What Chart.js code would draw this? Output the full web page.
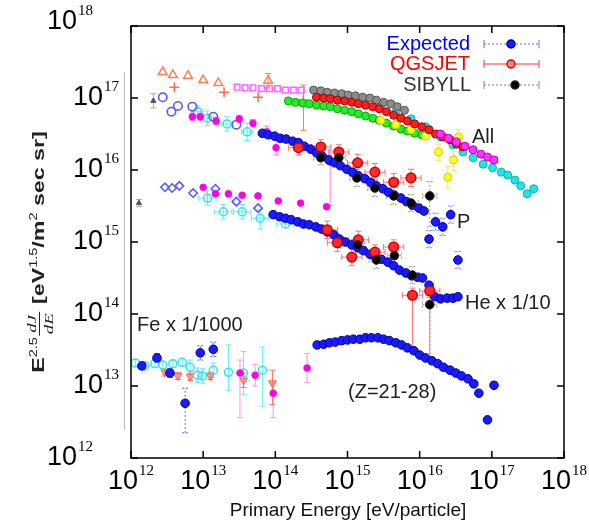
<!DOCTYPE html>
<html>
<head>
<meta charset="utf-8">
<script src="https://cdn.jsdelivr.net/npm/chart.js@4.4.0/dist/chart.umd.min.js"></script>
<style>
html,body{margin:0;padding:0;background:#fff;}
#wrap{width:589px;height:523px;position:relative;}
</style>
</head>
<body>
<div id="wrap"><canvas id="c" width="589" height="523"></canvas></div>
<script>
// values are log10(E [eV]) and log10(E^2.5 dJ/dE)
// ---- all particle ----
const triE = [12.44,12.58,12.79,13.00,13.21,13.90];
const triF = [17.36,17.32,17.31,17.25,17.21,17.24];
const plusE = [12.60,13.29,13.76,14.39];
const plusF = [17.15,17.08,17.01,16.97];
const sqE = [13.47,13.58,13.69,13.81,13.92,14.03,14.14,14.25,14.36];
const sqF = [17.15,17.14,17.14,17.13,17.13,17.13,17.11,17.11,17.11];
const grayAllE = [14.53,14.63,14.72,14.82,14.92,15.01,15.11,15.21,15.31,15.40,15.50,15.60,15.69,15.79];
const grayAllF = [17.11,17.10,17.08,17.07,17.06,17.04,17.03,17.01,17.00,16.97,16.94,16.92,16.88,16.83];
const redAllE = [14.57,14.67,14.76,14.86,14.96,15.06,15.15,15.25,15.35,15.44,15.54,15.64,15.74,15.83,15.93,16.03,16.13,16.22,16.32,16.42,16.51,16.60];
const redAllF = [17.01,17.00,16.99,16.97,16.96,16.94,16.92,16.90,16.88,16.85,16.81,16.76,16.72,16.68,16.64,16.60,16.56,16.50,16.46,16.42,16.36,16.32];
const greenAllE = [14.18,14.28,14.38,14.47,14.57,14.67,14.76,14.86,14.96,15.06,15.15,15.25,15.35,15.44,15.54,15.64,15.74,15.83,15.93,16.03];
const greenAllF = [16.96,16.94,16.93,16.92,16.90,16.89,16.88,16.85,16.83,16.81,16.78,16.75,16.72,16.69,16.65,16.61,16.57,16.54,16.51,16.49];
const yelAllE = [15.46,15.67,15.88,16.08,16.26,16.39,16.47,16.54];
const yelAllF = [16.69,16.63,16.56,16.47,16.25,15.90,16.14,16.46];
const cyanAllE = [15.46,15.67,15.88,16.08,16.29,16.46,16.60,16.74,16.88,17.01,17.13,17.22,17.32,17.40,17.49,17.58];
const cyanAllF = [16.89,16.81,16.71,16.60,16.46,16.35,16.25,16.17,16.08,16.03,15.97,15.93,15.86,15.78,15.67,15.74];
const magAllE = [16.29,16.40,16.51,16.63,16.74,16.85,16.94,17.03];
const magAllF = [16.50,16.44,16.39,16.33,16.28,16.22,16.18,16.14];

// ---- protons ----
const pOpenE = [12.44,12.56,12.65,12.85,13.14,13.46];
const pOpenF = [17.01,16.81,16.89,16.88,16.74,16.63];
const pMagE = [12.85,12.96,13.18,13.50,13.69,13.88,14.01,14.76];
const pMagF = [16.74,16.74,16.68,16.71,16.65,16.53,16.31,16.11];
const pCyanE = [12.92,13.06,13.33,13.61];
const pCyanF = [16.81,16.72,16.64,16.53];
const pExpE = [13.82,13.90,13.99,14.07,14.15,14.24,14.32,14.40,14.49,14.57,14.65,14.74,14.82,14.90,14.99,15.07,15.15,15.24,15.32,15.40,15.49,15.57,15.65,15.74,15.82,15.90,15.99,16.06,16.13,16.22,16.32,16.43,16.53];
const pExpF = [16.51,16.49,16.47,16.44,16.43,16.40,16.38,16.33,16.29,16.24,16.19,16.14,16.10,16.06,16.01,15.97,15.92,15.88,15.83,15.78,15.74,15.69,15.65,15.61,15.56,15.51,15.47,15.43,15.04,15.28,15.21,15.38,14.75];
const pQgsE = [14.32,14.63,14.88,15.14,15.38,15.64,15.88];
const pQgsF = [16.31,16.32,16.25,16.10,15.97,15.83,15.89];
const pSibE = [14.63,14.88,15.13,15.38,15.64,15.88,16.14];
const pSibF = [16.17,16.17,15.89,15.75,15.64,15.54,15.64];

// ---- helium x 1/10 ----
const heOpenE = [12.47,12.57,12.67,12.86,13.17,13.46,13.76];
const heOpenF = [15.76,15.75,15.78,15.68,15.74,15.56,15.47];
const heMagE = [13.00,13.17,13.35,13.54,13.76,14.04,14.35,14.71];
const heMagF = [15.76,15.67,15.67,15.65,15.64,15.57,15.54,15.49];
const heCyanE = [13.06,13.28,13.54,13.79,14.14];
const heCyanF = [15.61,15.42,15.42,15.33,15.25];
const heExpE = [13.97,14.06,14.14,14.22,14.31,14.39,14.47,14.56,14.64,14.72,14.81,14.89,14.97,15.06,15.14,15.22,15.31,15.39,15.47,15.56,15.64,15.72,15.81,15.89,15.97,16.04,16.13,16.21,16.29,16.38,16.46,16.53];
const heExpF = [15.38,15.35,15.33,15.31,15.28,15.25,15.24,15.21,15.18,15.14,15.10,15.04,15.00,14.96,14.92,14.88,14.83,14.79,14.76,14.72,14.67,14.61,14.57,14.53,14.51,14.50,14.40,14.24,14.21,14.22,14.22,14.24];
const heQgsE = [14.72,14.86,15.06,15.15,15.38,15.64,15.90,16.14];
const heQgsF = [15.17,14.99,14.79,15.03,14.86,14.93,14.26,14.32];
const heSibE = [15.14,15.40,15.65,15.90,16.14];
const heSibF = [14.96,14.75,14.81,14.54,14.13];

// ---- iron x 1/1000 ----
const feExpE = [14.58,14.67,14.75,14.83,14.92,15.00,15.08,15.17,15.25,15.33,15.42,15.50,15.58,15.67,15.75,15.83,15.92,16.00,16.08,16.17,16.25,16.33,16.42,16.50,16.58,16.67,16.75,16.82,16.94,17.03];
const feExpF = [13.57,13.58,13.60,13.61,13.63,13.64,13.65,13.65,13.67,13.67,13.67,13.65,13.63,13.60,13.57,13.53,13.49,13.43,13.39,13.35,13.31,13.26,13.22,13.18,13.14,13.10,13.03,12.90,12.53,13.01];
const feLowE = [12.15,12.36,12.54,12.75,12.96,13.14];
const feLowF = [13.28,13.39,13.18,12.76,13.46,13.51];
const feCyanE = [12.06,12.19,12.33,12.44,12.58,12.71,12.82,12.92,12.99,13.14,13.35,13.56,13.82];
const feCyanF = [13.32,13.28,13.31,13.29,13.31,13.33,13.26,13.15,13.14,13.22,13.19,13.18,13.22];
const feTriE = [12.47,12.65,12.82,13.10,13.56,13.96];
const feTriF = [13.19,13.14,13.13,13.14,13.08,13.04];
const feMagE = [13.51,13.72,13.97,14.44];
const feMagF = [13.18,13.15,12.90,13.25];

// error bars, [down, up] in decades
const pQgsErr = [[0.1,0.1],[0.1,0.1],[0.1,0.1],[0.12,0.12],[0.12,0.12],[0.12,0.12],[0.12,0.12]];
const pSibErr = [[0.1,0.1],[0.1,0.1],[0.12,0.12],[0.12,0.12],[0.12,0.12],[0.12,0.12],[0.43,0.2]];
const heQgsErr = [[0.12,0.12],[0.12,0.12],[0.12,0.12],[0.12,0.12],[0.1,0.1],[0.1,0.1],[0.76,0.1],[0.93,0.1]];
const heSibErr = [[0.12,0.12],[0.12,0.12],[0.12,0.12],[0.12,0.12],[0.74,0.1]];
const yelErr = [[0,0],[0,0],[0,0],[0,0],[0.12,0.1],[0.15,0.15],[0.15,0.12],[0.15,0.1]];
const pMagErr = [[0.05,0.05],[0.05,0.05],[0.05,0.05],[0.05,0.05],[0.05,0.05],[0.08,0.08],[0.1,0.1],[0.6,0.17]];
const pCyanErr = [[0.08,0.08],[0.1,0.1],[0.1,0.1],[0.12,0.12]];
const heCyanErr = [[0.1,0.1],[0.1,0.1],[0.1,0.1],[0.15,0.12],[0.05,0.05]];
const pExpErr = pExpE.map((e,i) => i >= 28 ? [0.12,0.12] : [0,0]);
const feLowErr = [[0.05,0.05],[0.06,0.06],[0.06,0.06],[0.41,0.21],[0.1,0.1],[0.1,0.1]];
const feCyanErr = [[0.05,0.05],[0.05,0.05],[0.05,0.05],[0.05,0.05],[0.05,0.05],[0.05,0.05],[0.1,0.1],[0.1,0.1],[0.1,0.1],[0.1,0.1],[0.25,0.38],[0.3,0.3],[0.5,0.32]];
const feTriErr = [[0.05,0.05],[0.05,0.05],[0.05,0.05],[0.05,0.05],[0.1,0.1],[0.3,0.18]];
const feMagErr = [[0.62,0.18],[0.15,0.15],[0.34,0.14],[0.2,0.2]];
const triErr = [[0,0],[0,0],[0,0],[0,0],[0,0],[0.1,0.1]];
const plusErr = [[0,0],[0,0],[0,0],[0.42,0.21]];

const decades = [12,13,14,15,16,17,18];

function pts(xs, ys){
  return xs.map((x,i) => ({x: Math.pow(10,x), y: Math.pow(10,ys[i])}));
}
function set(label, xs, ys, style, extra){
  return Object.assign({label, data: pts(xs,ys), pointStyle:'circle', pointRadius:4, borderWidth:1, showLine:false}, style, extra || {});
}

const open = 'rgba(255,255,255,0)';
const datasets = [
  set('SIBYLL P', pSibE, pSibF, {backgroundColor:'#000', borderColor:'#222', pointRadius:4.3}, {errY:pSibErr, errX:0.1, errColor:'#999', errDash:[2,2]}),
  set('SIBYLL He', heSibE, heSibF, {backgroundColor:'#000', borderColor:'#222', pointRadius:4.3}, {errY:heSibErr, errX:0.1, errColor:'#999', errDash:[2,2]}),
  set('QGSJET P', pQgsE, pQgsF, {backgroundColor:'#ff2a2a', borderColor:'#d00000', pointRadius:4.8, borderWidth:1.5}, {errY:pQgsErr, errX:0.14, errColor:'#ff7070'}),
  set('QGSJET He', heQgsE, heQgsF, {backgroundColor:'#ff2a2a', borderColor:'#d00000', pointRadius:4.8, borderWidth:1.5}, {errY:heQgsErr, errX:0.14, errColor:'#ff7070'}),
  set('Expected P', pExpE, pExpF, {backgroundColor:'#1a1aff', borderColor:'#0000a0', pointRadius:4.3}, {errY:pExpErr, errColor:'#8080ff', errDash:[2,2]}),
  set('Expected He', heExpE, heExpF, {backgroundColor:'#1a1aff', borderColor:'#0000a0', pointRadius:4.3}),
  set('Expected Fe', feExpE, feExpF, {backgroundColor:'#1a1aff', borderColor:'#0000a0', pointRadius:4.3}),
  set('Fe low', feLowE, feLowF, {backgroundColor:'#1a1aff', borderColor:'#0000a0', pointRadius:4.3}, {errY:feLowErr, errColor:'#6060ff', errDash:[2,2]}),
  set('P magenta', pMagE, pMagF, {backgroundColor:'#ff00e6', borderColor:'#ff00e6', pointRadius:3.3}, {errY:pMagErr, errColor:'#ff80f0'}),
  set('He magenta', heMagE, heMagF, {backgroundColor:'#ff00e6', borderColor:'#ff00e6', pointRadius:3.3}),
  set('Fe magenta', feMagE, feMagF, {backgroundColor:'#ff00e6', borderColor:'#ff00e6', pointRadius:3.3}, {errY:feMagErr, errColor:'#ff90f0'}),
  set('P open', pOpenE, pOpenF, {backgroundColor:open, borderColor:'#5a5aff', borderWidth:1.6, pointRadius:4.2}),
  set('He open', heOpenE, heOpenF, {backgroundColor:open, borderColor:'#5a5aff', borderWidth:1.6, pointRadius:4.2, pointStyle:'rectRot'}),
  set('P cyan', pCyanE, pCyanF, {backgroundColor:open, borderColor:'#2ee6f0', borderWidth:1.5, pointRadius:4}, {errY:pCyanErr, errX:0.08, errColor:'#60f0f8'}),
  set('He cyan', heCyanE, heCyanF, {backgroundColor:open, borderColor:'#2ee6f0', borderWidth:1.5, pointRadius:4}, {errY:heCyanErr, errX:0.12, errColor:'#60f0f8'}),
  set('Fe cyan', feCyanE, feCyanF, {backgroundColor:open, borderColor:'#2ee6f0', borderWidth:1.5, pointRadius:4}, {errY:feCyanErr, errColor:'#60f0f8'}),
  set('Fe tri', feTriE, feTriF, {backgroundColor:'rgba(255,120,100,0.6)', borderColor:'#ff5a4a', pointStyle:'triangle', rotation:180, pointRadius:4.5}, {errY:feTriErr, errColor:'#ff7060'}),
  set('All magenta', magAllE, magAllF, {backgroundColor:'#ff33ff', borderColor:'#c000c0'}),
  set('All red', redAllE, redAllF, {backgroundColor:'#ff1e1e', borderColor:'#a00000'}),
  set('All gray', grayAllE, grayAllF, {backgroundColor:'#8c8c8c', borderColor:'#555'}),
  set('All cyan', cyanAllE, cyanAllF, {backgroundColor:'#1ee6e6', borderColor:'#10b0b0'}),
  set('All yellow', yelAllE, yelAllF, {backgroundColor:'#ffff1e', borderColor:'#d0d000'}, {errY:yelErr, errColor:'#f0f040'}),
  set('All green', greenAllE, greenAllF, {backgroundColor:'#22ee22', borderColor:'#10a010'}),
  set('All squares', sqE, sqF, {backgroundColor:open, borderColor:'#ff66ff', borderWidth:1.5, pointStyle:'rect', pointRadius:4}),
  set('All triangles', triE, triF, {backgroundColor:open, borderColor:'#ff7f50', borderWidth:1.5, pointStyle:'triangle', pointRadius:5}, {errY:triErr, errColor:'#ff7f50'}),
  set('All plus', plusE, plusF, {backgroundColor:open, borderColor:'#ff6a4a', borderWidth:1.5, pointStyle:'cross', pointRadius:5}, {errY:plusErr, errColor:'#ff8060'}),
  set('P gray', [12.31], [16.96], {backgroundColor:'#555', borderColor:'#555', pointStyle:'triangle', pointRadius:3}, {errY:[[0.1,0.1]], errColor:'#aaa'}),
  set('He gray', [12.11], [15.54], {backgroundColor:'#555', borderColor:'#555', pointStyle:'triangle', pointRadius:3}, {errY:[[0.05,0.05]], errColor:'#aaa'})
];

// error bars through the chart scales
const errorBars = {
  id: 'errorBars',
  beforeDatasetsDraw(chart){
    const {ctx, scales:{x, y}} = chart;
    ctx.save();
    chart.data.datasets.forEach(ds => {
      if(!ds.errY && !ds.errX) return;
      ctx.strokeStyle = ds.errColor || ds.borderColor;
      ctx.lineWidth = 1;
      ctx.setLineDash(ds.errDash || []);
      ds.data.forEach((p, i) => {
        const lx = Math.log10(p.x), ly = Math.log10(p.y);
        const px = x.getPixelForValue(p.x), py = y.getPixelForValue(p.y);
        ctx.beginPath();
        if(ds.errY){
          const e = ds.errY[i];
          if(e[0] || e[1]){
            const y0 = y.getPixelForValue(Math.pow(10, ly - e[0]));
            const y1 = y.getPixelForValue(Math.pow(10, ly + e[1]));
            ctx.moveTo(px, y0); ctx.lineTo(px, y1);
            ctx.moveTo(px-3, y0); ctx.lineTo(px+3, y0);
            ctx.moveTo(px-3, y1); ctx.lineTo(px+3, y1);
          }
        }
        if(ds.errX){
          const x0 = x.getPixelForValue(Math.pow(10, lx - ds.errX));
          const x1 = x.getPixelForValue(Math.pow(10, lx + ds.errX));
          ctx.moveTo(x0, py); ctx.lineTo(x1, py);
          ctx.moveTo(x0, py-3); ctx.lineTo(x0, py+3);
          ctx.moveTo(x1, py-3); ctx.lineTo(x1, py+3);
        }
        ctx.stroke();
      });
    });
    ctx.restore();
  }
};

function pow10(ctx, n, x, y, align){
  ctx.font = '27px "Liberation Sans", Arial, sans-serif';
  const w1 = ctx.measureText('10').width;
  ctx.font = '15px "Liberation Serif", "Times New Roman", serif';
  const w2 = ctx.measureText(String(n)).width;
  const total = w1 + w2 + 1;
  const x0 = align === 'right' ? x - total : x - total/2;
  ctx.textBaseline = 'middle';
  ctx.textAlign = 'left';
  ctx.font = '27px "Liberation Sans", Arial, sans-serif';
  ctx.fillText('10', x0, y);
  ctx.font = '15px "Liberation Serif", "Times New Roman", serif';
  ctx.fillText(String(n), x0 + w1 + 1, y - 11);
}

const decor = {
  id: 'decor',
  afterDraw(chart){
    const {ctx, chartArea:a, scales:{x, y}} = chart;
    ctx.save();
    // faint gray edge line left of the frame, as in the scan
    ctx.strokeStyle = '#b8b8b8';
    ctx.lineWidth = 1;
    ctx.beginPath(); ctx.moveTo(124.5, 72); ctx.lineTo(124.5, 430); ctx.stroke();
    // frame and ticks
    ctx.strokeStyle = '#000';
    ctx.lineWidth = 1.5;
    ctx.strokeRect(a.left, a.top, a.right - a.left, a.bottom - a.top);
    ctx.beginPath();
    decades.forEach(d => {
      const v = Math.pow(10, d);
      const px = x.getPixelForValue(v), py = y.getPixelForValue(v);
      ctx.moveTo(px, a.bottom); ctx.lineTo(px, a.bottom - 7);
      ctx.moveTo(px, a.top); ctx.lineTo(px, a.top + 7);
      ctx.moveTo(a.left, py); ctx.lineTo(a.left + 7, py);
      ctx.moveTo(a.right, py); ctx.lineTo(a.right - 7, py);
    });
    ctx.stroke();
    // tick labels
    ctx.fillStyle = '#000';
    decades.forEach(d => {
      const v = Math.pow(10, d);
      pow10(ctx, d, x.getPixelForValue(v), a.bottom + 24, 'center');
      const edge = (d === 12 || d === 18) ? 93 : 119;
      pow10(ctx, d, edge, y.getPixelForValue(v) + (d === 18 ? -4 : 0), 'right');
    });
    // x title
    ctx.textAlign = 'center';
    ctx.textBaseline = 'alphabetic';
    ctx.fillStyle = '#111';
    ctx.font = '19px "Liberation Sans", Arial, sans-serif';
    ctx.fillText('Primary Energy [eV/particle]', 348, 516);
    // y title, rotated and stretched along its length
    ctx.save();
    ctx.translate(44, 252);
    ctx.rotate(-Math.PI/2);
    ctx.scale(1.45, 1);
    const big = 'bold 16px "Liberation Sans", Arial, sans-serif';
    const sup = '10px "Liberation Sans", Arial, sans-serif';
    const frac = 'italic 13px "Liberation Serif", "Times New Roman", serif';
    const parts = [
      ['E', big, 0], ['2.5', sup, -7], ['FRAC', frac, 0], [' [eV', big, 0], ['1.5', sup, -7],
      ['/m', big, 0], ['2', sup, -7], [' sec sr]', big, 0]
    ];
    ctx.textAlign = 'left';
    let total = 0;
    parts.forEach(p => { ctx.font = p[1]; p.w = p[0] === 'FRAC' ? ctx.measureText('dE').width + 4 : ctx.measureText(p[0]).width; total += p.w; });
    let cx = -total/2;
    ctx.fillStyle = '#222';
    parts.forEach(p => {
      ctx.font = p[1];
      if(p[0] === 'FRAC'){
        const mid = cx + p.w/2;
        ctx.textAlign = 'center';
        ctx.fillText('dJ', mid, -8);
        ctx.fillText('dE', mid, 9);
        ctx.fillRect(cx + 1, -5, p.w - 2, 1);
        ctx.textAlign = 'left';
      } else {
        ctx.fillText(p[0], cx, p[2]);
      }
      cx += p.w;
    });
    ctx.restore();
    // series labels
    ctx.font = '20px "Liberation Sans", Arial, sans-serif';
    ctx.fillStyle = '#222';
    ctx.textAlign = 'left';
    ctx.textBaseline = 'middle';
    ctx.fillText('All', 472, 137);
    ctx.fillText('P', 457, 222);
    ctx.fillText('He x 1/10', 465, 303);
    ctx.fillText('Fe x 1/1000', 137, 325);
    ctx.fillText('(Z=21-28)', 348, 392);
    // legend
    ctx.textAlign = 'right';
    ctx.fillStyle = '#0000ff'; ctx.fillText('Expected', 470, 44);
    ctx.fillStyle = '#ff0000'; ctx.fillText('QGSJET', 470, 64);
    ctx.fillStyle = '#333'; ctx.fillText('SIBYLL', 471, 85);
    const sample = (yy, color, dash, fill, stroke, cxp) => {
      ctx.strokeStyle = color; ctx.lineWidth = 1; ctx.setLineDash(dash);
      ctx.beginPath(); ctx.moveTo(484, yy); ctx.lineTo(539, yy); ctx.stroke();
      ctx.setLineDash([]);
      ctx.beginPath(); ctx.moveTo(484, yy-4); ctx.lineTo(484, yy+4); ctx.moveTo(539, yy-4); ctx.lineTo(539, yy+4); ctx.stroke();
      ctx.beginPath(); ctx.arc(cxp, yy, 4, 0, Math.PI*2);
      ctx.fillStyle = fill; ctx.fill(); ctx.strokeStyle = stroke; ctx.lineWidth = 1.5; ctx.stroke();
    };
    sample(44, '#6a6aff', [2,2], '#1a1aff', '#0000a0', 511);
    sample(64, '#ff3030', [], '#ff8080', '#e00000', 511);
    sample(85, '#888', [2,2], '#000', '#222', 515);
    ctx.restore();
  }
};

new Chart(document.getElementById('c').getContext('2d'), {
  type: 'scatter',
  data: {datasets},
  options: {
    responsive: false,
    animation: false,
    devicePixelRatio: 1,
    layout: {padding: {left:131, right:25, top:26, bottom:65}},
    plugins: {legend: {display:false}, tooltip: {enabled:false}},
    scales: {
      x: {type:'logarithmic', min:1e12, max:1e18, display:false},
      y: {type:'logarithmic', min:1e12, max:1e18, display:false}
    }
  },
  plugins: [errorBars, decor]
});
</script>
</body>
</html>
